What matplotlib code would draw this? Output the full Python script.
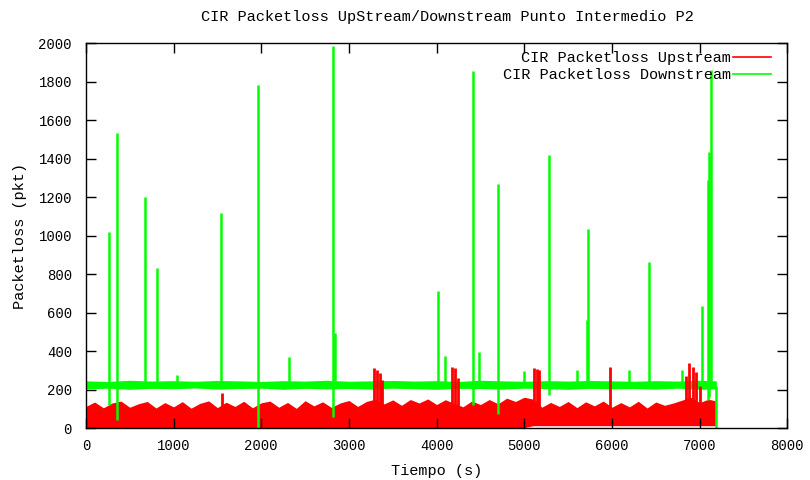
import numpy as np
import matplotlib
matplotlib.use("Agg")
import matplotlib.pyplot as plt

# envolvente del ruido (lectura aproximada de la imagen)
red_x = list(range(0, 7200, 100)) + [7190]
red_top = [112, 135, 105, 130, 140, 108, 126, 138, 104, 132,
           110, 137, 103, 128, 141, 106, 134, 112, 139, 105,
           131, 140, 108, 133, 102, 142, 115, 136, 107, 130,
           143, 112, 138, 150, 125, 146, 118, 148, 130, 151,
           122, 147, 128, 110, 140, 122, 148, 126, 155, 138,
           160, 150, 108, 133, 112, 138, 106, 136, 115, 140,
           108, 132, 110, 139, 104, 135, 118, 130, 145, 160,
           132, 150, 140]
red_low = [2] * 51 + [12] * 22

green_x = [0, 250, 500, 750, 1000, 1250, 1500, 1750, 2000, 2250, 2500, 2750,
           3000, 3250, 3500, 3750, 4000, 4250, 4500, 4750, 5000, 5250, 5500,
           5750, 6000, 6250, 6500, 6750, 7000, 7190]
green_low = [203, 207, 201, 206, 204, 208, 202, 205, 207, 201, 206, 203,
             205, 202, 207, 204, 201, 206, 205, 202, 207, 204, 201, 206,
             204, 205, 202, 207, 201, 204]
green_top = [245, 242, 248, 244, 246, 243, 247, 245, 242, 246, 244, 248,
             243, 245, 247, 244, 246, 242, 248, 245, 243, 246, 244, 247,
             245, 243, 246, 244, 248, 245]

# picos
red_spike_t = [1550, 3290, 3320, 3350, 3380, 4180, 4210, 4240, 5110, 5140,
               5170, 5980, 6840, 6880, 6920, 6960, 7000]
red_spike_v = [182, 312, 300, 286, 250, 317, 310, 260, 312, 305,
               300, 317, 270, 337, 318, 290, 220]

green_spike_t = [262, 354, 673, 814, 1035, 1541, 1959, 2313, 2822, 2840,
                 4013, 4096, 4419, 4484, 4698, 4998, 5283, 5598, 5720, 5731,
                 6199, 6424, 6797, 7025, 7101, 7110, 7128]
green_spike_v = [1018, 1532, 1200, 831, 275, 1117, 1782, 369, 1984, 493,
                 712, 374, 1855, 395, 1268, 296, 1418, 301, 561, 1034,
                 301, 862, 301, 634, 1288, 1434, 1860]

green_dip_t = [262, 354, 1959, 2822, 4419, 4698, 5283, 7090, 7110, 7190]
green_dip_v = [118, 40, 0, 57, 120, 73, 171, 145, 160, 0]

RED = "#ff0000"
GREEN = "#00ff00"
FONT = "Liberation Mono"

fig = plt.figure(figsize=(8.1, 4.8), dpi=100)
ax = fig.add_axes([0.106, 0.1083, 0.866, 0.802])

# Upstream
ax.fill_between(red_x, red_low, red_top, color=RED, linewidth=0)
ax.vlines(red_spike_t, 100, red_spike_v, color=RED, linewidth=2)

# Downstream
ax.fill_between(green_x, green_low, green_top, color=GREEN, linewidth=0)
ax.vlines(green_spike_t, 220, green_spike_v, color=GREEN, linewidth=1.8)
ax.vlines(green_dip_t, green_dip_v, 220, color=GREEN, linewidth=1.8)

ax.set_xlim(0, 8000)
ax.set_ylim(0, 2000)
ax.set_xticks(np.arange(0, 8001, 1000))
ax.set_yticks(np.arange(0, 2001, 200))
ax.tick_params(direction="in", length=7, width=1, top=True, right=True,
               labelsize=10)
ax.tick_params(axis="x", pad=8)
ax.tick_params(axis="y", pad=10)
for lab in ax.get_xticklabels() + ax.get_yticklabels():
    lab.set_fontfamily(FONT)
for s in ax.spines.values():
    s.set_linewidth(1)

ax.set_xlabel("Tiempo (s)", fontfamily=FONT, fontsize=11, labelpad=8)
ax.set_ylabel("Packetloss (pkt)", fontfamily=FONT, fontsize=11, labelpad=8)
fig.text(0.552, 0.965, "CIR Packetloss UpStream/Downstream Punto Intermedio P2",
         ha="center", va="center", fontfamily=FONT, fontsize=11)

# leyenda estilo gnuplot
ax.text(0.920, 0.962, "CIR Packetloss Upstream", transform=ax.transAxes,
        ha="right", va="center", fontfamily=FONT, fontsize=11)
ax.plot([0.922, 0.977], [0.964, 0.964], transform=ax.transAxes, color=RED,
        linewidth=1.2, clip_on=False)
ax.text(0.920, 0.917, "CIR Packetloss Downstream", transform=ax.transAxes,
        ha="right", va="center", fontfamily=FONT, fontsize=11)
ax.plot([0.922, 0.977], [0.919, 0.919], transform=ax.transAxes, color=GREEN,
        linewidth=1.2, clip_on=False)

fig.savefig("out.png", dpi=100)
